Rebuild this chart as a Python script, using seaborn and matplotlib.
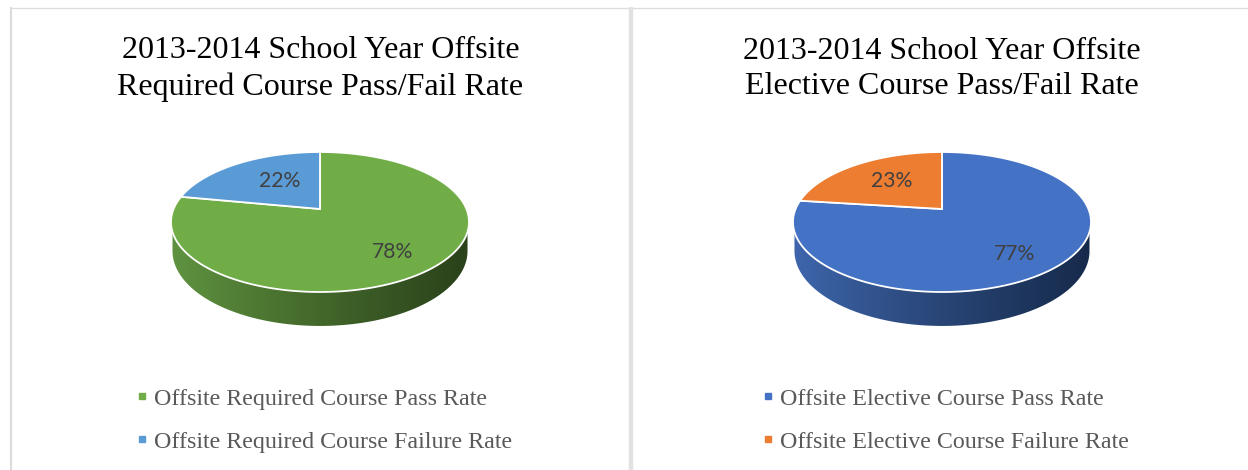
import numpy as np
import matplotlib
matplotlib.use("Agg")
import matplotlib.pyplot as plt
import seaborn as sns
from matplotlib.lines import Line2D
from matplotlib.patches import Polygon

# values
titles = ["2013-2014 School Year Offsite\nRequired Course Pass/Fail Rate",
          "2013-2014 School Year Offsite\nElective Course Pass/Fail Rate"]
required_rates = [78, 22]
elective_rates = [77, 23]
required_labels = ["Offsite Required Course Pass Rate", "Offsite Required Course Failure Rate"]
elective_labels = ["Offsite Elective Course Pass Rate", "Offsite Elective Course Failure Rate"]
required_colors = ["#70AD47", "#5B9BD5"]
elective_colors = ["#4472C4", "#ED7D31"]
required_side = ["#5F9340", "#4C7531", "#3A5A25", "#2A411A"]
elective_side = ["#3E66AC", "#2F4F86", "#223C67", "#162A4B"]

W, H = 1248, 470
DEPTH = 34 / 70   # side wall height, in units of the vertical radius
K = 13 / 70       # pie apex sits above the ellipse centre


def project(x, y):
    # perspective tilt: unit circle stays a unit circle, centre moves up
    return np.sqrt(1 - K ** 2) * x / (1 + K * y), (y + K) / (1 + K * y)


def draw_pie(center_x, values, colors, side, label_pos):
    ax = fig.add_axes([(center_x - 149) / W, 1 - 326 / H, 298 / W, 174 / H])
    wedges, _, autotexts = ax.pie(values, colors=colors, startangle=90, counterclock=False,
                                  autopct="%d%%", textprops=dict(color="#404040", family="Lato", fontsize=15.2))
    ax.set_aspect("auto")
    ax.set_xlim(-1, 1)
    ax.set_ylim(-1 - DEPTH, 1)

    # side wall with a horizontal gradient, its lower edge is a deeper ellipse
    t = np.radians(np.linspace(180, 360, 200))
    wall = np.vstack([np.column_stack([0.99 * np.cos(t), 1.071 * np.sin(t) - 0.414]),
                      [[0.99, 0], [-0.99, 0]]])
    cmap = sns.blend_palette(side, as_cmap=True)
    img = ax.imshow(np.linspace(0, 1, 256)[None, :], cmap=cmap, extent=(-1, 1, -1 - DEPTH, 1),
                    aspect="auto", zorder=1)
    img.set_clip_path(Polygon(wall, transform=ax.transData))

    # re-draw the slices from the angles pie worked out, tilted
    for w, col in zip(wedges, colors):
        a = np.radians(np.linspace(w.theta1, w.theta2, 200))
        px, py = project(np.r_[0, np.cos(a)], np.r_[0, np.sin(a)])
        ax.add_patch(Polygon(np.column_stack([px, py]), closed=True, facecolor=col,
                             edgecolor="white", linewidth=1.3, zorder=2))
        w.set_visible(False)

    for txt, pos in zip(autotexts, label_pos):
        txt.set_position(pos)
        txt.set_zorder(3)
    return ax


sns.set_theme(style="white")
plt.rcParams["font.family"] = ["Liberation Serif", "DejaVu Serif"]

fig = plt.figure(figsize=(W / 100, H / 100), dpi=100, facecolor="white")

# panel frame
frame = "#DCDCDC"
fig.add_artist(Line2D([10 / W, 1], [1 - 7.5 / H, 1 - 7.5 / H], color=frame, lw=0.9, solid_capstyle="butt"))
fig.add_artist(Line2D([11 / W, 11 / W], [0, 1 - 7 / H], color=frame, lw=1.6, solid_capstyle="butt"))
fig.add_artist(Line2D([631 / W, 631 / W], [0, 1 - 7 / H], color="#E2E2E2", lw=3.2, solid_capstyle="butt"))

draw_pie(320, required_rates, required_colors, required_side, [(0.485, -0.43), (-0.27, 0.585)])
draw_pie(942, elective_rates, elective_colors, elective_side, [(0.49, -0.46), (-0.335, 0.585)])

for cx, title in zip([320.5, 941.5], titles):
    fig.text(cx / W, 1 - 69 / H, title, ha="center", va="center", fontsize=23.0,
             color="black", linespacing=1.3)

for x0, labels, colors in [(131.2, required_labels, required_colors),
                           (757.5, elective_labels, elective_colors)]:
    handles = [Line2D([], [], marker="s", linestyle="", color=c, markersize=4.3) for c in colors]
    fig.legend(handles, labels, loc="upper left", bbox_to_anchor=(x0 / W, 1 - 388 / H), frameon=False,
               fontsize=17.3, labelcolor="#595959", labelspacing=0.88, handlelength=0.9,
               handletextpad=0.05, borderpad=0, borderaxespad=0)

fig.savefig("out.png", dpi=100)
